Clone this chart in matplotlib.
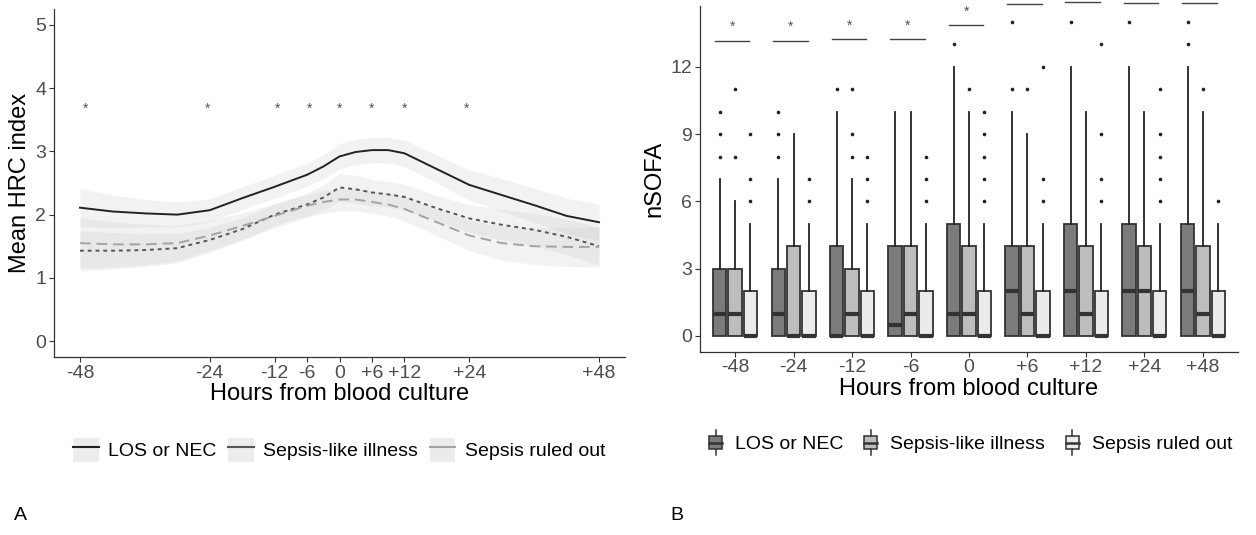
import numpy as np
import matplotlib
matplotlib.use("Agg")
import matplotlib.pyplot as plt
from matplotlib.patches import Rectangle, Patch
from matplotlib.lines import Line2D
from matplotlib.legend_handler import HandlerBase

plt.rcParams['font.family'] = ['Liberation Sans', 'DejaVu Sans']

# ---------------- Panel A: mean HRC index over time ----------------
hours = [-48, -42, -36, -30, -24, -18, -12, -6, -3, 0, 3, 6, 9, 12, 18, 24, 30, 36, 42, 48]
hrc_los = [2.11, 2.05, 2.02, 2.00, 2.07, 2.26, 2.44, 2.63, 2.76, 2.92, 2.99, 3.02, 3.02, 2.97,
           2.72, 2.47, 2.31, 2.15, 1.98, 1.88]
hrc_like = [1.43, 1.43, 1.44, 1.47, 1.60, 1.77, 2.00, 2.16, 2.27, 2.43, 2.40, 2.35, 2.32, 2.28,
            2.10, 1.94, 1.84, 1.76, 1.65, 1.50]
hrc_out = [1.55, 1.53, 1.53, 1.55, 1.67, 1.82, 1.98, 2.14, 2.20, 2.24, 2.24, 2.20, 2.16, 2.09,
           1.88, 1.67, 1.55, 1.50, 1.49, 1.49]
# half widths of the confidence ribbons
ci_los = [0.30, 0.26, 0.22, 0.20, 0.18, 0.18, 0.18, 0.18, 0.19, 0.20, 0.20, 0.20, 0.20, 0.21,
          0.22, 0.24, 0.26, 0.27, 0.28, 0.29]
ci_like = [0.32, 0.29, 0.26, 0.23, 0.20, 0.18, 0.17, 0.18, 0.20, 0.22, 0.22, 0.21, 0.20, 0.20,
           0.20, 0.22, 0.24, 0.26, 0.28, 0.30]
ci_out = [0.40, 0.36, 0.32, 0.28, 0.24, 0.21, 0.19, 0.18, 0.18, 0.18, 0.18, 0.18, 0.18, 0.19,
          0.21, 0.24, 0.27, 0.29, 0.31, 0.32]
star_hours = [-47, -24.5, -11.5, -5.5, 0, 6, 12, 23.5]
star_y = 3.67
xticks_a = [-48, -24, -12, -6, 0, 6, 12, 24, 48]
xlabels_a = ['-48', '-24', '-12', '-6', '0', '+6', '+12', '+24', '+48']

# ---------------- Panel B: nSOFA boxplots ----------------
time_labels = ['-48', '-24', '-12', '-6', '0', '+6', '+12', '+24', '+48']
groups = ['LOS or NEC', 'Sepsis-like illness', 'Sepsis ruled out']
group_fill = ['#7b7b7b', '#bdbdbd', '#ebebeb']
q1 = {g: [0] * 9 for g in groups}
q3 = {'LOS or NEC': [3, 3, 4, 4, 5, 4, 5, 5, 5],
      'Sepsis-like illness': [3, 4, 3, 4, 4, 4, 4, 4, 4],
      'Sepsis ruled out': [2, 2, 2, 2, 2, 2, 2, 2, 2]}
med = {'LOS or NEC': [1, 1, 0, 0.5, 1, 2, 2, 2, 2],
       'Sepsis-like illness': [1, 0, 1, 1, 1, 1, 1, 2, 1],
       'Sepsis ruled out': [0, 0, 0, 0, 0, 0, 0, 0, 0]}
whi = {'LOS or NEC': [7, 7, 10, 10, 12, 10, 12, 12, 12],
       'Sepsis-like illness': [6, 9, 7, 10, 10, 9, 10, 10, 10],
       'Sepsis ruled out': [5, 5, 5, 5, 5, 5, 5, 5, 5]}
fliers = {'LOS or NEC': [[8, 9, 10], [8, 9, 10], [11], [], [13], [11, 14], [14], [14], [13, 14]],
          'Sepsis-like illness': [[8, 11], [], [8, 9, 11], [], [11], [11], [], [], [11]],
          'Sepsis ruled out': [[6, 7, 9], [6, 7], [6, 7, 8], [6, 7, 8], [6, 7, 8, 9, 10],
                               [6, 7, 12], [6, 7, 9, 13], [6, 7, 8, 9, 11], [6]]}
sig_level = [13.15, 13.15, 13.23, 13.23, 13.85, 14.8, 14.9, 14.86, 14.86]


class BoxKey(HandlerBase):
    def create_artists(self, legend, orig_handle, xdescent, ydescent, width, height, fontsize, trans):
        cx = width / 2 - xdescent
        bw = width * 0.66
        y0 = -ydescent
        r = Rectangle((cx - bw / 2, y0 + height * 0.16), bw, height * 0.68,
                      facecolor=orig_handle.get_facecolor(), edgecolor='#333333', lw=1.1, transform=trans)
        m = Line2D([cx - bw / 2, cx + bw / 2], [y0 + height / 2] * 2, color='#333333', lw=1.8, transform=trans)
        w1 = Line2D([cx, cx], [y0 - height * 0.12, y0 + height * 0.16], color='#333333', lw=1.1, transform=trans)
        w2 = Line2D([cx, cx], [y0 + height * 0.84, y0 + height * 1.12], color='#333333', lw=1.1, transform=trans)
        return [r, m, w1, w2]


def style_axes(ax):
    for s in ['top', 'right']:
        ax.spines[s].set_visible(False)
    for s in ['left', 'bottom']:
        ax.spines[s].set_color('#333333')
        ax.spines[s].set_linewidth(0.9)
    ax.tick_params(length=3.5, width=0.8, color='#333333', labelcolor='#4d4d4d',
                   labelsize=14, pad=2)


W, H = 1256, 535
fig = plt.figure(figsize=(W / 100, H / 100), dpi=100)

# ----- panel A -----
axA = fig.add_axes([54 / W, 1 - 357 / H, (625 - 54) / W, (357 - 9) / H])
style_axes(axA)
series = [(hrc_los, ci_los, '#222222', '-', 'LOS or NEC'),
          (hrc_like, ci_like, '#555555', (0, (2.0, 2.0)), 'Sepsis-like illness'),
          (hrc_out, ci_out, '#a3a3a3', (0, (5.5, 3.0)), 'Sepsis ruled out')]
for vals, ci, col, ls, lab in series:
    v = np.array(vals)
    c = np.array(ci)
    axA.fill_between(hours, v - c, v + c, color='#c8c8c8', alpha=0.22, lw=0)
for vals, ci, col, ls, lab in series:
    axA.plot(hours, vals, color=col, ls=ls, lw=1.4)
for h in star_hours:
    axA.text(h, star_y, '*', ha='center', va='center', fontsize=10, color='#555555')
axA.set_xlim(-52.8, 52.8)
axA.set_ylim(-0.25, 5.25)
axA.set_xticks(xticks_a)
axA.set_xticklabels(xlabels_a)
axA.set_yticks(range(6))
axA.set_xlabel('Hours from blood culture', fontsize=17, labelpad=1)
axA.set_ylabel('Mean HRC index', fontsize=17, labelpad=3)

handles_a = [(Patch(facecolor='#ececec', edgecolor='none'), Line2D([], [], color=col, lw=1.5))
             for vals, ci, col, ls, lab in series]
axA.legend(handles_a, [s[4] for s in series], loc='center', bbox_to_anchor=(0.5, -0.267),
           ncol=3, frameon=False, fontsize=14, handlelength=1.3, handleheight=1.5,
           handletextpad=0.5, columnspacing=0.6)

# ----- panel B -----
axB = fig.add_axes([700 / W, 1 - 351.7 / H, (1238 - 700) / W, 345.4 / H])
style_axes(axB)
offsets = [-0.262, 0.0, 0.262]
for gi, g in enumerate(groups):
    stats = []
    for i in range(9):
        stats.append(dict(med=med[g][i], q1=q1[g][i], q3=q3[g][i], whislo=q1[g][i],
                          whishi=whi[g][i], fliers=fliers[g][i]))
    pos = [i + 1 + offsets[gi] for i in range(9)]
    axB.bxp(stats, positions=pos, widths=0.23, patch_artist=True, showcaps=False,
            boxprops=dict(facecolor=group_fill[gi], edgecolor='#333333', lw=1.3),
            whiskerprops=dict(color='#222222', lw=1.3),
            medianprops=dict(color='#333333', lw=3.0, solid_capstyle='butt'),
            flierprops=dict(marker='o', markersize=1.6, markerfacecolor='#222222',
                            markeredgecolor='#222222'),
            manage_ticks=False)
for i, lev in enumerate(sig_level):
    axB.plot([i + 1 - 0.35, i + 1 + 0.24], [lev, lev], color='#444444', lw=1.0, clip_on=False)
    if lev + 0.6 < 14.9:
        axB.text(i + 1 - 0.05, lev + 0.62, '*', ha='center', va='center', fontsize=10,
                 color='#555555', clip_on=False)
axB.set_xlim(0.4, 9.6)
axB.set_ylim(-0.7, 14.7)
axB.set_xticks(range(1, 10))
axB.set_xticklabels(time_labels)
axB.set_yticks([0, 3, 6, 9, 12])
axB.set_xlabel('Hours from blood culture', fontsize=17, labelpad=1)
axB.set_ylabel('nSOFA', fontsize=17, labelpad=4)

handles_b = [Patch(facecolor=c) for c in group_fill]
axB.legend(handles_b, groups, loc='center', bbox_to_anchor=(0.5, -0.264), ncol=3,
           frameon=False, fontsize=14, handlelength=1.0, handleheight=1.2,
           handletextpad=0.5, columnspacing=0.9, handler_map={Patch: BoxKey()})

fig.text(14 / W, 1 - 515 / H, 'A', fontsize=14, va='center', ha='left')
fig.text(670 / W, 1 - 515 / H, 'B', fontsize=14, va='center', ha='left')

fig.savefig('out.png', dpi=100, facecolor='white')
